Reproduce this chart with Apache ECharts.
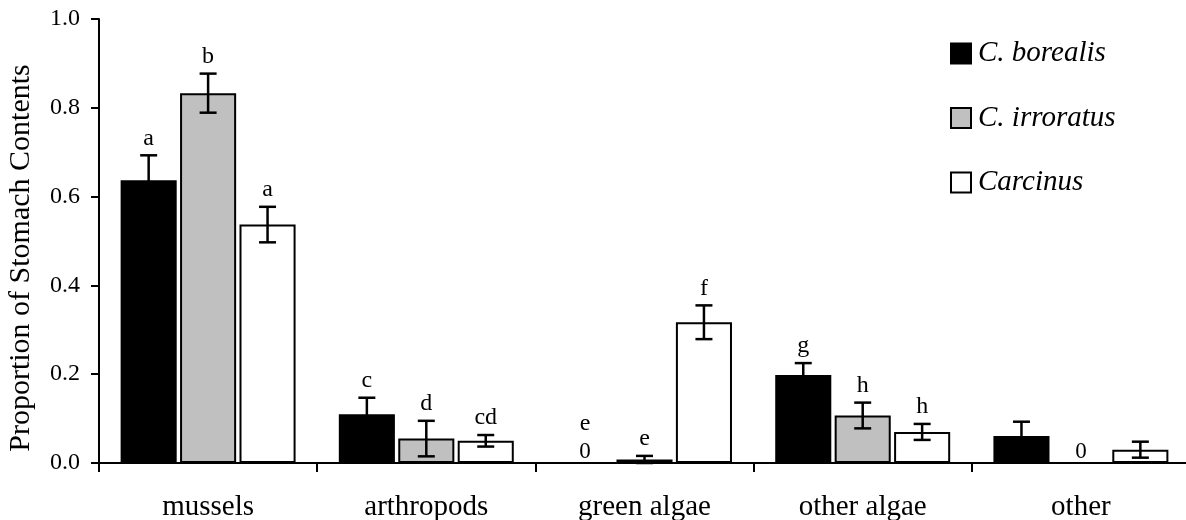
<!DOCTYPE html>
<html>
<head>
<meta charset="utf-8">
<script src="https://cdn.jsdelivr.net/npm/echarts@6/dist/echarts.min.js"></script>
<style>
  html, body { margin: 0; padding: 0; background: #fff; }
  #chart { width: 1186px; height: 520px; }
</style>
</head>
<body>
<div id="chart"></div>
<script>
// Diet composition of three crab species (mean proportion ± SE)
const categories = ['mussels', 'arthropods', 'green algae', 'other algae', 'other'];
const seriesNames = ['C. borealis', 'C. irroratus', 'Carcinus'];

const borealisMean = [0.637, 0.110, 0, 0.198, 0.061];
const borealisErr = [0.056, 0.037, 0, 0.027, 0.032];
const irroratusMean = [0.833, 0.055, 0.008, 0.107, 0];
const irroratusErr = [0.044, 0.040, 0.008, 0.029, 0];
const carcinusMean = [0.537, 0.050, 0.317, 0.070, 0.030];
const carcinusErr = [0.040, 0.013, 0.038, 0.018, 0.018];

// significance-group letters shown above each bar
const borealisLetters = ['a', 'c', 'e', 'g', ''];
const irroratusLetters = ['b', 'd', 'e', 'h', ''];
const carcinusLetters = ['a', 'cd', 'f', 'h', ''];

const yTicks = [0, 0.2, 0.4, 0.6, 0.8, 1.0];

const means = [borealisMean, irroratusMean, carcinusMean];
const errs = [borealisErr, irroratusErr, carcinusErr];
const letters = [borealisLetters, irroratusLetters, carcinusLetters];
const fills = ['#000000', '#c0c0c0', '#ffffff'];

const SERIF = '"Liberation Serif", "Times New Roman", serif';
const BAR_FRAC = 0.257;   // bar width as share of a category band
const GAP_FRAC = 0.06;    // gap between bars as share of bar width

const chart = echarts.init(document.getElementById('chart'), null, { renderer: 'canvas' });

function errorSeries(idx) {
  return {
    type: 'custom',
    name: seriesNames[idx] + ' SE',
    z: 5,
    silent: true,
    data: categories.map((c, i) => [i, means[idx][i], errs[idx][i]]),
    renderItem: function (params, api) {
      const ci = api.value(0);
      const mean = api.value(1);
      const err = api.value(2);
      const letter = letters[idx][ci];
      const band = api.size([1, 0])[0];
      const barW = band * BAR_FRAC;
      const gap = barW * GAP_FRAC;
      const total = 3 * barW + 2 * gap;
      const base = api.coord([ci, 0]);
      const cx = base[0] - total / 2 + idx * (barW + gap) + barW / 2;
      const children = [];
      let anchorY;
      if (mean === 0) {
        // zero bars get a "0" marker on the baseline
        children.push({
          type: 'text',
          style: {
            x: cx, y: base[1] - 11, text: '0',
            font: '23px ' + SERIF, fill: '#000',
            align: 'center', verticalAlign: 'middle'
          }
        });
        anchorY = base[1] - 22;
      } else {
        const top = api.coord([ci, mean + err])[1];
        const bot = api.coord([ci, Math.max(mean - err, 0)])[1];
        const capHalf = 8.5;
        const lineStyle = { stroke: '#000', lineWidth: 2.5 };
        children.push({ type: 'line', shape: { x1: cx, y1: top, x2: cx, y2: bot }, style: lineStyle });
        children.push({ type: 'line', shape: { x1: cx - capHalf, y1: top, x2: cx + capHalf, y2: top }, style: lineStyle });
        children.push({ type: 'line', shape: { x1: cx - capHalf, y1: bot, x2: cx + capHalf, y2: bot }, style: lineStyle });
        anchorY = top;
      }
      if (letter) {
        children.push({
          type: 'text',
          style: {
            x: cx, y: anchorY - 17, text: letter,
            font: '24px ' + SERIF, fill: '#000',
            align: 'center', verticalAlign: 'middle'
          }
        });
      }
      return { type: 'group', children: children };
    }
  };
}

const barSeries = seriesNames.map((name, idx) => ({
  type: 'bar',
  name: name,
  data: means[idx],
  barWidth: (BAR_FRAC * 100) + '%',
  barGap: (GAP_FRAC * 100) + '%',
  itemStyle: { color: fills[idx], borderColor: '#000', borderWidth: 2 },
  emphasis: { disabled: true },
  z: 2
}));

chart.setOption({
  animation: false,
  backgroundColor: '#ffffff',
  textStyle: { fontFamily: SERIF },
  grid: { left: 99, right: -4, top: 19, bottom: 57, outerBoundsMode: 'none', containLabel: false },
  legend: {
    data: seriesNames,
    orient: 'vertical',
    left: 945,
    top: 34,
    padding: 5,
    itemWidth: 20,
    itemHeight: 20,
    itemGap: 35.5,
    selectedMode: false,
    icon: 'rect',
    textStyle: {
      fontFamily: SERIF, fontStyle: 'italic', fontSize: 29, color: '#000',
      padding: [0, 0, 0, 2]
    }
  },
  xAxis: {
    type: 'category',
    data: categories,
    boundaryGap: true,
    axisLine: { lineStyle: { color: '#000', width: 2 } },
    axisTick: { show: true, alignWithLabel: false, length: 9, lineStyle: { color: '#000', width: 2 } },
    axisLabel: { color: '#000', fontFamily: SERIF, fontSize: 29, margin: 30 }
  },
  yAxis: {
    type: 'value',
    min: yTicks[0],
    max: yTicks[yTicks.length - 1],
    interval: 0.2,
    name: 'Proportion of Stomach Contents',
    nameLocation: 'middle',
    nameGap: 63,
    nameTextStyle: { color: '#000', fontFamily: SERIF, fontSize: 30, padding: [0, 34, 0, 0] },
    splitLine: { show: false },
    axisLine: { show: true, lineStyle: { color: '#000', width: 2 } },
    axisTick: { show: true, length: 8, lineStyle: { color: '#000', width: 2 } },
    axisLabel: {
      color: '#000', fontFamily: SERIF, fontSize: 24, margin: 19,
      formatter: v => v.toFixed(1)
    }
  },
  series: barSeries.concat([errorSeries(0), errorSeries(1), errorSeries(2)])
});
</script>
</body>
</html>
